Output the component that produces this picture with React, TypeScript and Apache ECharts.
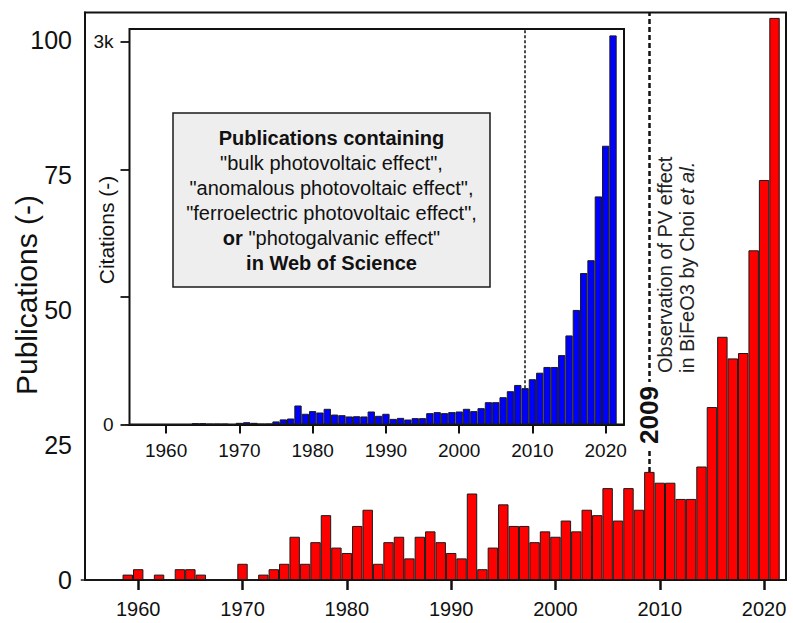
import React, { useEffect, useRef } from "react";
import * as echarts from "echarts";

// Publication years covered by both histograms
const firstYear = 1955;
const years: number[] = Array.from({ length: 67 }, (_, i) => firstYear + i);

// Yearly publication counts (main panel)
const publications = [
  0, 0, 0, 0, 1,
  2, 0, 1, 0, 2, 2, 1, 0, 0, 0,
  3, 0, 1, 2, 3, 8, 3, 7, 12, 6,
  5, 10, 13, 3, 7, 8, 4, 8, 9, 7,
  5, 4, 16, 2, 6, 14, 10, 10, 7, 9,
  8, 11, 9, 13, 12, 17, 11, 17, 13, 20,
  18, 18, 15, 15, 21, 32, 45, 41, 42, 61,
  74, 104,
];

// Yearly citation counts (inset panel)
const citations = [
  0, 0, 0, 0, 0,
  0, 0, 0, 0, 10, 10, 4, 4, 4, 0,
  13, 18, 13, 4, 5, 24, 40, 47, 149, 84,
  105, 94, 123, 78, 73, 63, 65, 63, 102, 68,
  84, 44, 52, 39, 50, 50, 89, 97, 89, 97,
  102, 123, 105, 128, 175, 175, 214, 261, 310, 285,
  355, 406, 451, 451, 544, 698, 898, 1187, 1288, 1788,
  2185, 3050,
];

const decadeTicks = [1960, 1970, 1980, 1990, 2000, 2010, 2020];
const pubTicks = [0, 25, 50, 75, 100];
const citationTicks = [0, 1000, 2000, 3000];
const citationLabels = [0, 3000];
const markerYear = 2009;

const FONT = "'Liberation Sans', Arial, Helvetica, sans-serif";
const INK = "#111111";

export default function App() {
  const ref = useRef<HTMLDivElement>(null);

  useEffect(() => {
    document.body.style.margin = "0";
    if (!ref.current) return;
    const chart = echarts.init(ref.current, null, { renderer: "svg" });

    const W = 793;
    const main = { left: 85, top: 12.5, right: 7, bottom: 43 };
    const inset = { left: 129.5, top: 29, right: 169, bottom: 198.5 };
    const mainX = { min: 1954.9, max: 2022.1 };
    const insetX = { min: 1955, max: 2022.5 };
    const mainYMax = 105;
    const insetYMax = 3100;

    const mainBarW = (W - main.left - main.right) / (mainX.max - mainX.min);
    const insetBarW = (W - inset.left - inset.right) / (insetX.max - insetX.min);

    const markerIdx = years.indexOf(markerYear);
    const yearLabel = (v: number) => String(v);

    const option: any = {
      animation: false,
      backgroundColor: "#ffffff",
      textStyle: { fontFamily: FONT, color: INK },
      grid: [
        {
          ...main,
          show: true,
          borderColor: INK,
          borderWidth: 2,
          backgroundColor: "#ffffff",
          z: 0,
        },
        {
          ...inset,
          show: true,
          borderColor: INK,
          borderWidth: 2,
          backgroundColor: "#ffffff",
          z: 1,
        },
      ],
      xAxis: [
        {
          type: "value",
          gridIndex: 0,
          min: mainX.min,
          max: mainX.max,
          axisLine: { show: true, onZero: false, lineStyle: { color: INK, width: 2 } },
          axisTick: {
            show: true,
            customValues: decadeTicks,
            length: 10,
            lineStyle: { color: INK, width: 2.5 },
          },
          axisLabel: {
            customValues: decadeTicks,
            fontSize: 20,
            margin: 19,
            color: INK,
            fontFamily: FONT,
            formatter: yearLabel,
          },
          splitLine: { show: false },
        },
        {
          type: "value",
          gridIndex: 1,
          min: insetX.min,
          max: insetX.max,
          axisLine: { show: true, onZero: false, lineStyle: { color: INK, width: 2 } },
          axisTick: {
            show: true,
            customValues: decadeTicks,
            length: 9,
            lineStyle: { color: INK, width: 2 },
          },
          axisLabel: {
            customValues: decadeTicks,
            fontSize: 19,
            margin: 16,
            color: INK,
            fontFamily: FONT,
            formatter: yearLabel,
          },
          splitLine: { show: false },
        },
      ],
      yAxis: [
        {
          type: "value",
          gridIndex: 0,
          min: 0,
          max: mainYMax,
          interval: 25,
          axisLine: { show: true, lineStyle: { color: INK, width: 2 } },
          axisTick: { show: false },
          axisLabel: {
            fontSize: 25,
            margin: 13,
            color: INK,
            fontFamily: FONT,
            formatter: (v: number) => (pubTicks.includes(v) ? String(v) : ""),
          },
          splitLine: { show: false },
        },
        {
          type: "value",
          gridIndex: 1,
          min: 0,
          max: insetYMax,
          interval: 1000,
          axisLine: { show: true, lineStyle: { color: INK, width: 2 } },
          axisTick: {
            show: true,
            customValues: citationTicks,
            length: 9,
            lineStyle: { color: INK, width: 1.8 },
          },
          axisLabel: {
            customValues: citationLabels,
            fontSize: 19,
            margin: 16,
            color: INK,
            fontFamily: FONT,
            formatter: (v: number) => (v === 0 ? "0" : v === 3000 ? "3k" : ""),
          },
          splitLine: { show: false },
        },
      ],
      series: [
        {
          type: "bar",
          name: "Publications",
          xAxisIndex: 0,
          yAxisIndex: 0,
          barWidth: mainBarW,
          data: years.map((y, i) => [y, publications[i]]),
          itemStyle: { color: "#ff0000", borderColor: "#1a1a1a", borderWidth: 1 },
          markLine: {
            silent: true,
            symbol: ["none", "none"],
            label: { show: false },
            lineStyle: { color: INK, width: 2.5, type: [5, 3] },
            data: [
              [
                { coord: [markerYear, publications[markerIdx]] },
                { coord: [markerYear, mainYMax] },
              ],
            ],
          },
        },
        {
          type: "bar",
          name: "Citations",
          xAxisIndex: 1,
          yAxisIndex: 1,
          barWidth: insetBarW,
          z: 5,
          data: years.map((y, i) => [y, citations[i]]),
          itemStyle: { color: "#0000ff", borderColor: "#1a1a1a", borderWidth: 1 },
          markLine: {
            silent: true,
            symbol: ["none", "none"],
            label: { show: false },
            lineStyle: { color: INK, width: 1.5, type: [3, 2] },
            data: [
              [
                { coord: [markerYear, citations[markerIdx]] },
                { coord: [markerYear, insetYMax] },
              ],
            ],
          },
        },
      ],
      graphic: [
        {
          type: "text",
          x: 26,
          y: 295,
          rotation: Math.PI / 2,
          z: 100,
          style: {
            text: "Publications (-)",
            fontSize: 30,
            fontFamily: FONT,
            fill: INK,
            align: "center",
            verticalAlign: "middle",
          },
        },
        {
          type: "text",
          x: 106,
          y: 230,
          rotation: Math.PI / 2,
          z: 100,
          style: {
            text: "Citations (-)",
            fontSize: 21,
            fontFamily: FONT,
            fill: INK,
            align: "center",
            verticalAlign: "middle",
          },
        },
        {
          type: "rect",
          z: 100,
          shape: { x: 173, y: 113, width: 317, height: 174 },
          style: { fill: "#eeeeee", stroke: "#1a1a1a", lineWidth: 1.5 },
        },
        {
          type: "text",
          z: 101,
          x: 331.5,
          y: 200.5,
          style: {
            text:
              "{b|Publications containing}\n" +
              '{n|"bulk photovoltaic effect",}\n' +
              '{n|"anomalous photovoltaic effect",}\n' +
              '{n|"ferroelectric photovoltaic effect",}\n' +
              '{b|or}{n| "photogalvanic effect"}\n' +
              "{b|in Web of Science}",
            align: "center",
            verticalAlign: "middle",
            fill: INK,
            fontSize: 20,
            fontFamily: FONT,
            rich: {
              b: { fontSize: 20, fontWeight: "bold", fontFamily: FONT, lineHeight: 25, fill: INK },
              n: { fontSize: 20, fontFamily: FONT, lineHeight: 25, fill: INK },
            },
          },
        },
        {
          type: "text",
          x: 649,
          y: 415,
          rotation: Math.PI / 2,
          z: 100,
          style: {
            text: String(markerYear),
            fontSize: 26,
            fontWeight: "bold",
            fontFamily: FONT,
            fill: INK,
            align: "center",
            verticalAlign: "middle",
            backgroundColor: "#ffffff",
            padding: [0, 4],
          },
        },
        {
          type: "text",
          x: 676,
          y: 373,
          rotation: Math.PI / 2,
          z: 100,
          style: {
            text: "{n|Observation of PV effect}\n{n|in BiFeO3 by Choi }{i|et al.}",
            align: "left",
            verticalAlign: "middle",
            fontSize: 20,
            fontFamily: FONT,
            fill: "#222222",
            rich: {
              n: { fontSize: 20, fontFamily: FONT, lineHeight: 22, fill: "#222222" },
              i: { fontSize: 20, fontFamily: FONT, fontStyle: "italic", lineHeight: 22, fill: "#222222" },
            },
          },
        },
      ],
    };

    chart.setOption(option);
    return () => chart.dispose();
  }, []);

  return <div ref={ref} style={{ width: 793, height: 623 }} />;
}
